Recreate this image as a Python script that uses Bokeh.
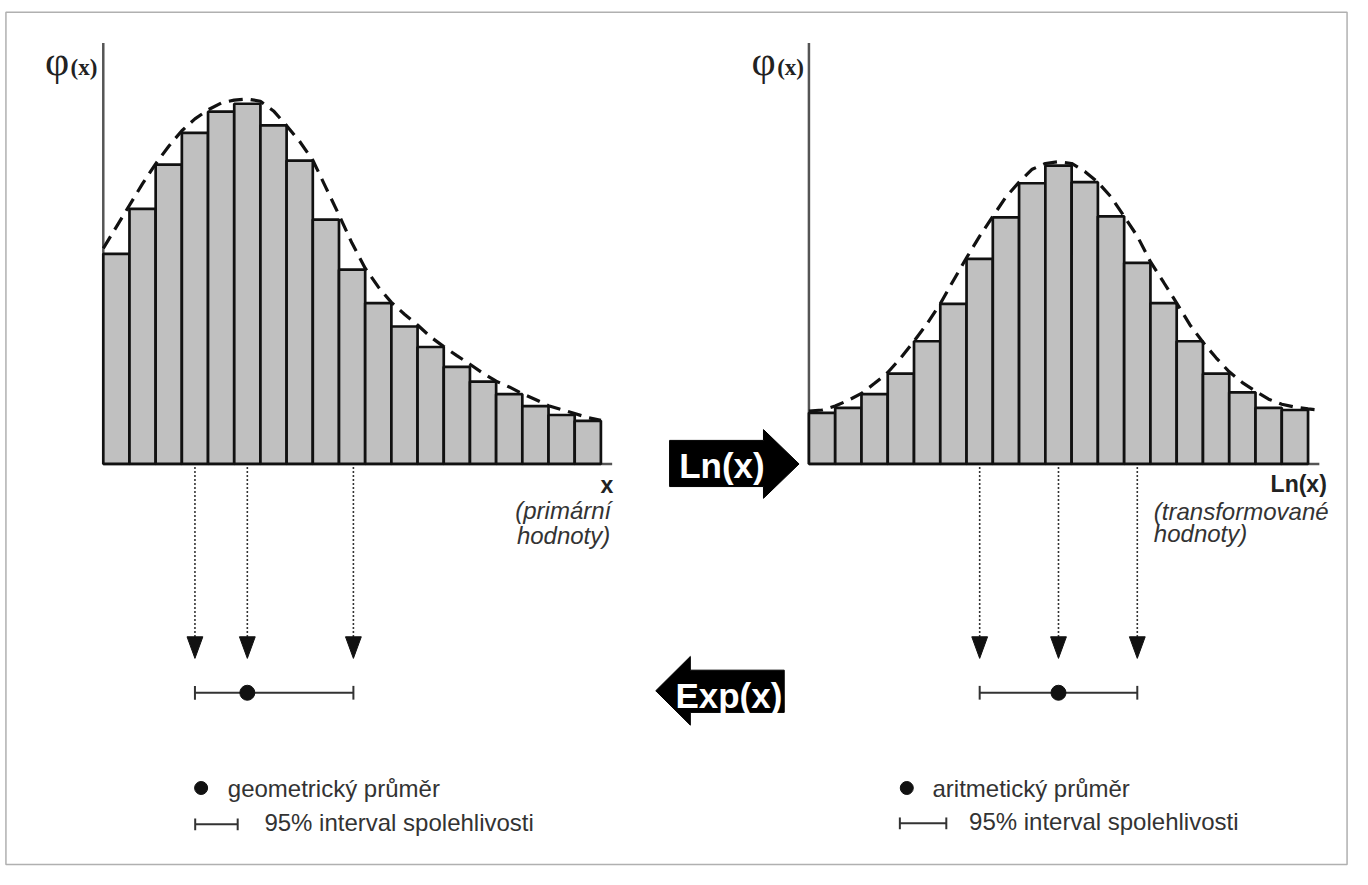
from bokeh.plotting import figure
from bokeh.models import Range1d
from bokeh.core.properties import value
from bokeh.embed import file_html
from bokeh.resources import INLINE

# ---------------- data ----------------
# bin index (left edge) of each histogram bar
bins = [0, 1, 2, 3, 4, 5, 6, 7, 8, 9, 10, 11, 12, 13, 14, 15, 16, 17, 18]
# primary values histogram (relative frequency, peak = 100)
left_heights = [58.4, 70.9, 83.2, 92.0, 97.9, 100.1, 94.1, 84.3, 67.9, 54.0,
                44.7, 38.2, 32.5, 27.0, 22.9, 19.4, 16.1, 13.6, 12.0]
# fitted (log-normal) density, dashed
left_curve_x = [0, 0.5, 1, 1.5, 2, 2.5, 3, 3.5, 4, 4.5, 5, 5.5, 6, 6.5, 7, 7.5,
                8, 8.5, 9, 9.5, 10, 10.5, 11, 11.5, 12, 12.5, 13, 13.5, 14, 14.5,
                15, 15.5, 16, 16.5, 17, 17.5, 18, 18.5, 19]
left_curve_y = [59.9, 65.9, 71.9, 77.9, 83.4, 88.3, 92.6, 95.9, 98.4, 100.3,
                101.1, 101.4, 100.8, 98.1, 94.0, 89.6, 84.4, 76.8, 69.2, 61.3,
                54.4, 49.2, 44.9, 41.6, 38.6, 35.3, 32.6, 30.1, 27.7, 25.2,
                23.0, 21.4, 19.5, 17.9, 16.2, 15.1, 14.0, 12.9, 12.1]
# transformed values histogram
right_heights = [14.2, 15.6, 19.4, 25.1, 34.1, 44.5, 57.0, 68.5, 78.0, 82.9,
                 78.3, 68.8, 55.9, 44.7, 34.1, 25.1, 19.9, 15.6, 15.0]
right_curve_x = [0, 0.5, 1, 1.5, 2, 2.5, 3, 3.5, 4, 4.5, 5, 5.5, 6, 6.5, 7, 7.5,
                 8, 8.5, 9, 9.5, 10, 10.5, 11, 11.5, 12, 12.5, 13, 13.5, 14, 14.5,
                 15, 15.5, 16, 16.5, 17, 17.5, 18, 18.5, 19, 19.4]
right_curve_y = [14.7, 15.0, 16.1, 17.7, 19.6, 22.4, 25.4, 29.5, 34.1, 39.0,
                 44.5, 51.0, 57.3, 63.3, 68.8, 74.2, 78.3, 81.9, 83.5, 84.0,
                 83.5, 81.3, 78.3, 74.2, 68.8, 63.3, 56.2, 50.5, 44.7, 38.7,
                 33.8, 29.5, 25.6, 22.6, 20.2, 18.0, 16.6, 15.8, 15.3, 15.0]
# means and 95% confidence intervals (in bin units)
left_mean = 5.5
left_ci = [3.5, 9.55]
right_mean = 9.5
right_ci = [6.5, 12.5]

# ---------------- layout (reference-pixel space 1368 x 885) ----------------
W, H = 1352, 869
PX0, PX1, PY0, PY1 = 0, 1368, 0, 885
L_X0, L_BW = 104.0, 26.5      # left histogram: pixel of bin 0, pixels per bin
R_X0, R_BW = 818.0, 26.58     # right histogram
BASE, VS = 472.0, 3.665       # baseline pixel, pixels per value unit
Y_TOP = 117                   # top of y axes (value units)
X_END = 19.43                 # end of x axes (bin units)

INK = "#111111"
GREY_FILL = "#c0c0c0"
FONT = value("Liberation Sans")
SERIF = value("Liberation Serif")

p = figure(width=W, height=H, x_range=Range1d(PX0, PX1), y_range=Range1d(PY1, PY0),
           output_backend="svg", toolbar_location=None, min_border=0,
           x_axis_type=None, y_axis_type=None)
p.outline_line_color = None
p.grid.visible = False
p.background_fill_color = "white"
p.border_fill_color = "white"

p.extra_x_ranges = {
    "lx": Range1d((PX0 - L_X0) / L_BW, (PX1 - L_X0) / L_BW),
    "rx": Range1d((PX0 - R_X0) / R_BW, (PX1 - R_X0) / R_BW),
}
p.extra_y_ranges = {"hy": Range1d((BASE - PY1) / VS, (BASE - PY0) / VS)}

# outer frame
p.quad(left=[5.5], right=[1362.5], top=[12], bottom=[880], fill_color=None,
       line_color="#b0b0b0", line_width=1.5)

for xr, heights, cx, cy, mean, ci in (
        ("lx", left_heights, left_curve_x, left_curve_y, left_mean, left_ci),
        ("rx", right_heights, right_curve_x, right_curve_y, right_mean, right_ci)):
    # axes
    p.segment(x0=[0], y0=[0], x1=[0], y1=[Y_TOP], x_range_name=xr, y_range_name="hy",
              line_color="#555555", line_width=2.5)
    p.segment(x0=[0], y0=[0], x1=[X_END], y1=[0], x_range_name=xr, y_range_name="hy",
              line_color="#555555", line_width=2.5)
    # bars
    p.quad(left=bins, right=[b + 1 for b in bins], bottom=0, top=heights,
           x_range_name=xr, y_range_name="hy",
           fill_color=GREY_FILL, line_color=INK, line_width=2.7)
    # dashed density
    p.line(cx, cy, x_range_name=xr, y_range_name="hy",
           line_color=INK, line_width=3.2, line_dash="14 8")
    # dotted projection arrows
    marks = [ci[0], mean, ci[1]]
    p.segment(x0=marks, y0=475, x1=marks, y1=650, x_range_name=xr,
              line_color="#333333", line_width=1.6, line_dash="2 2")
    hw = 8.0 / (L_BW if xr == "lx" else R_BW)
    p.patches(xs=[[m - hw, m + hw, m] for m in marks],
              ys=[[648, 648, 670] for _ in marks], x_range_name=xr,
              fill_color=INK, line_color=INK, line_width=1)
    # interval with mean
    p.segment(x0=[ci[0]], y0=[705], x1=[ci[1]], y1=[705], x_range_name=xr,
              line_color="#333333", line_width=2)
    p.segment(x0=ci, y0=698, x1=ci, y1=712, x_range_name=xr,
              line_color="#333333", line_width=2)
    p.scatter(x=[mean], y=[705], x_range_name=xr, size=15,
              fill_color=INK, line_color=INK)

# big transformation arrows
p.patch([677, 772, 772, 808, 772, 772, 677], [448, 448, 437, 472, 507, 495, 495],
        fill_color="black", line_color="black")
p.patch([793, 698, 698, 663, 698, 698, 793], [682, 682, 668, 703, 738, 725, 725],
        fill_color="black", line_color="black")
p.text(x=[730, 737], y=[474, 708], text=["Ln(x)", "Exp(x)"], text_font=FONT,
       text_font_size="35px", text_font_style="bold", text_color="white",
       text_align="center", text_baseline="middle")

# phi labels
p.text(x=[45, 760], y=[62, 62], text=["φ", "φ"], text_font=SERIF,
       text_font_size="42px", text_color="#222222", text_align="left",
       text_baseline="alphabetic")
p.text(x=[98, 813], y=[68, 68], text=["(x)", "(x)"], text_font=SERIF,
       text_font_size="23px", text_font_style="bold", text_color="#222222",
       text_align="right", text_baseline="alphabetic")

# axis captions
p.text(x=[620, 1342], y=[493, 492], text=["x", "Ln(x)"], text_font=FONT,
       text_font_size="23px", text_font_style="bold", text_color="#222222",
       text_align="right", text_baseline="middle")
p.text(x=[618, 617], y=[519, 545], text=["(primární", "hodnoty)"], text_font=FONT,
       text_font_size="24px", text_font_style="italic", text_color="#333333",
       text_align="right", text_baseline="middle")
p.text(x=[1167, 1167], y=[520, 543], text=["(transformované", "hodnoty)"], text_font=FONT,
       text_font_size="24px", text_font_style="italic", text_color="#333333",
       text_align="left", text_baseline="middle")

# legends
p.scatter(x=[203, 917], y=[802, 802], size=13, fill_color=INK, line_color=INK)
p.segment(x0=[197, 910], y0=[839, 838], x1=[240, 957], y1=[839, 838],
          line_color="#333333", line_width=2)
p.segment(x0=[197, 240, 910, 957], y0=[833, 833, 832, 832],
          x1=[197, 240, 910, 957], y1=[845, 845, 844, 844],
          line_color="#333333", line_width=2)
p.text(x=[230, 943], y=[803, 802], text=["geometrický průměr", "aritmetický průměr"],
       text_font=FONT, text_font_size="24px", text_color="#333333",
       text_align="left", text_baseline="middle")
p.text(x=[267, 980], y=[837, 836], text=["95% interval spolehlivosti",
                                          "95% interval spolehlivosti"],
       text_font=FONT, text_font_size="24px", text_color="#333333",
       text_align="left", text_baseline="middle")

open("out.html", "w").write(file_html(p, INLINE))
